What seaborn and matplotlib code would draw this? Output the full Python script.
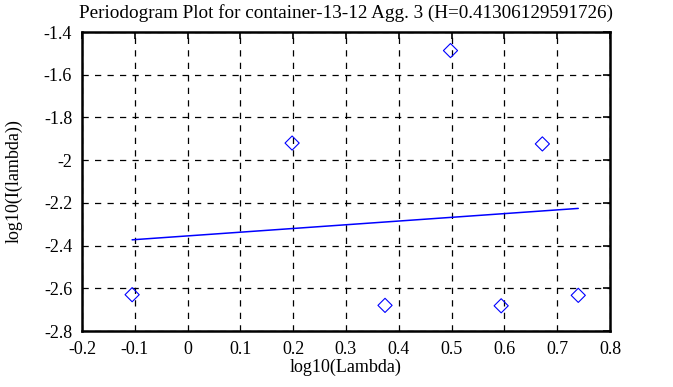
import matplotlib
matplotlib.use("Agg")
import matplotlib.pyplot as plt
import seaborn as sns
import numpy as np
import pandas as pd

# Data
log_lambda = [-0.105, 0.198, 0.374, 0.498, 0.594, 0.672, 0.740]
log_I = [-2.630, -1.920, -2.680, -1.487, -2.682, -1.924, -2.633]
fit_x = [-0.105, 0.740]
fit_y = [-2.373, -2.226]
x_ticks = [-0.2, -0.1, 0, 0.1, 0.2, 0.3, 0.4, 0.5, 0.6, 0.7, 0.8]
y_ticks = [-2.8, -2.6, -2.4, -2.2, -2.0, -1.8, -1.6, -1.4]
x_tick_labels = ["-0.2", "-0.1", "0", "0.1", "0.2", "0.3", "0.4", "0.5", "0.6", "0.7", "0.8"]
y_tick_labels = ["-2.8", "-2.6", "-2.4", "-2.2", "-2", "-1.8", "-1.6", "-1.4"]
title = "Periodogram Plot for container-13-12 Agg. 3 (H=0.41306129591726)"

sns.set_style("white")
plt.rcParams['font.family'] = ['Liberation Serif', 'DejaVu Serif']
plt.rcParams['text.color'] = 'black'
plt.rcParams['axes.labelcolor'] = 'black'

fig = plt.figure(figsize=(6.73, 3.87), dpi=100)
ax = fig.add_axes([0.1218, 0.1447, 0.7845, 0.7726])

pts = pd.DataFrame({"x": log_lambda, "y": log_I})
fit = pd.DataFrame({"x": fit_x, "y": fit_y})

sns.lineplot(data=fit, x="x", y="y", ax=ax, color="#0000ff", linewidth=1.1, zorder=3)
sns.scatterplot(data=pts, x="x", y="y", ax=ax, marker="D", s=52,
                facecolors="none", edgecolor="#0000ff", linewidth=0.8, zorder=4)

ax.set_xlim(-0.2, 0.8)
ax.set_ylim(-2.8, -1.4)
ax.set_xticks(x_ticks)
ax.set_xticklabels(x_tick_labels)
ax.set_yticks(y_ticks)
ax.set_yticklabels(y_tick_labels)

ax.grid(True, color="black", linestyle=(0, (5, 5)), linewidth=0.9)
ax.set_axisbelow(True)
for sp in ax.spines.values():
    sp.set_visible(True)
    sp.set_color("black")
    sp.set_linewidth(1.8)

ax.tick_params(direction="in", length=5, width=1.2, top=True, right=True,
               labelsize=13, colors="black", pad=7)

ax.set_xlabel("log10(Lambda)", fontsize=13, labelpad=1, color="black")
ax.set_ylabel("log10(I(lambda))", fontsize=13, labelpad=15, color="black")
ax.set_title(title, fontsize=13.8, pad=10, color="black")

fig.savefig("out.png", dpi=100)
